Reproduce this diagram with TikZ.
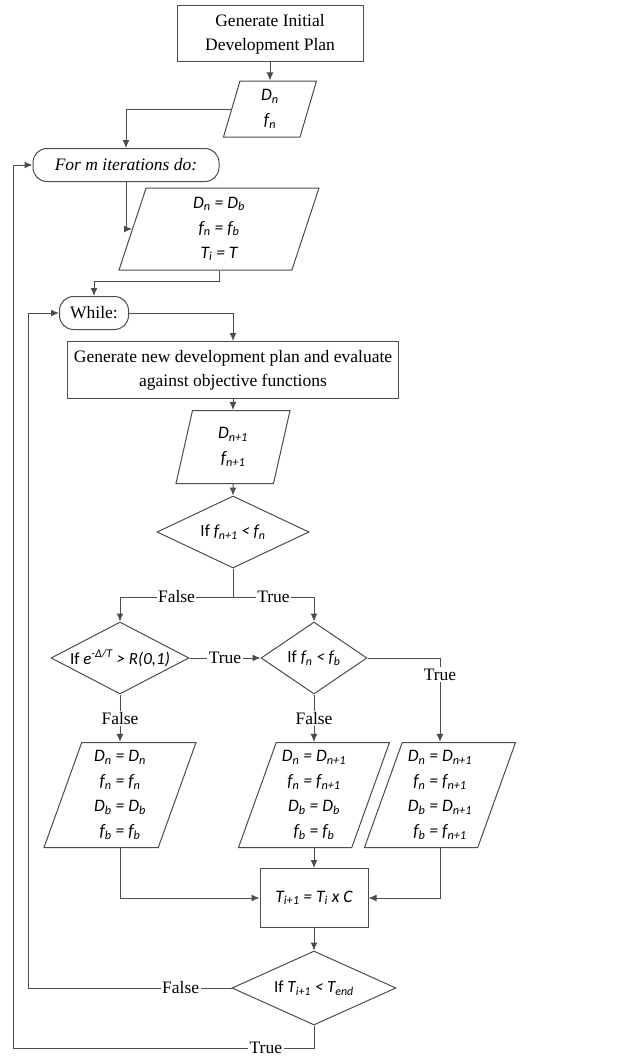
\documentclass[tikz,border=0pt]{standalone}
\usepackage{fontspec}
\setmainfont{Liberation Serif}
\newfontfamily\calfont{Carlito}
\usetikzlibrary{shapes.geometric,arrows.meta}
\newcommand{\sbx}[1]{\textsubscript{#1}}
\newcommand{\spx}[1]{\textsuperscript{#1}}
\begin{document}
\begin{tikzpicture}
    [
    x=1pt, y=-1pt,
    line width=1pt,
    every node/.style={font={\fontsize{17.5}{24}\selectfont}},
    process/.style={rectangle,draw=black!70,inner sep=0pt,align=center},
    io/.style={trapezium,trapezium left angle=67,trapezium right angle=113,trapezium stretches body,draw=black!70,inner sep=0pt,align=center,font={\fontsize{17.5}{25}\calfont\itshape}},
    decision/.style={diamond,draw=black!70,inner sep=0pt,aspect=2,font={\fontsize{17}{20}\calfont}},
    loopbox/.style={rectangle,rounded corners=14pt,draw=black!70,inner sep=0pt},
    lbl/.style={fill=white,inner sep=1.5pt},
    arr/.style={draw=black!70,-{Latex[length=8pt,width=7pt]}},
    line/.style={draw=black!70}
    ]
    \useasboundingbox (0,0) rectangle (627,1057);
    \node (gen) at (270,34) [process, minimum width=186, minimum height=56] {Generate Initial\\Development Plan};
    \node (dnfn) at (270,109) [io, minimum width=93, minimum height=56] {D\sbx{n}\\f\sbx{n}};
    \node (formit) at (126,165) [loopbox, minimum width=186, minimum height=33] {\itshape For m iterations do:};
    \node (reset) at (219,229) [io, minimum width=200, minimum height=82] {D\sbx{n} = D\sbx{b}\\f\sbx{n} = f\sbx{b}\\T\sbx{i} = T};
    \node (while) at (94,313) [loopbox, minimum width=69, minimum height=33] {While:};
    \node (newplan) at (233,370) [process, minimum width=331, minimum height=57] {Generate new development plan and evaluate\\against objective functions};
    \node (dnext) at (233,447) [io, minimum width=114, minimum height=73] {D\sbx{n+1}\\f\sbx{n+1}};
    \node (better) at (233,532) [decision, minimum width=152, minimum height=72] {If \textit{f\sbx{n+1} < f\sbx{n}}};
    \node (accept) at (120,658) [decision, minimum width=138, minimum height=72] {If \textit{e\spx{-Δ/T} > R(0,1)}};
    \node (best) at (314,658) [decision, minimum width=106, minimum height=72] {If \textit{f\sbx{n} < f\sbx{b}}};
    \node (keep) at (120,795) [io, minimum width=152, minimum height=105] {D\sbx{n} = D\sbx{n}\\f\sbx{n} = f\sbx{n}\\D\sbx{b} = D\sbx{b}\\f\sbx{b} = f\sbx{b}};
    \node (move) at (314,795) [io, minimum width=151, minimum height=105] {D\sbx{n} = D\sbx{n+1}\\f\sbx{n} = f\sbx{n+1}\\D\sbx{b} = D\sbx{b}\\f\sbx{b} = f\sbx{b}};
    \node (newbest) at (440,795) [io, minimum width=151, minimum height=105] {D\sbx{n} = D\sbx{n+1}\\f\sbx{n} = f\sbx{n+1}\\D\sbx{b} = D\sbx{n+1}\\f\sbx{b} = f\sbx{n+1}};
    \node (cool) at (314,898) [process, minimum width=108, minimum height=59, font={\fontsize{17.5}{20}\calfont\itshape}] {T\sbx{i+1} = T\sbx{i} x C};
    \node (stop) at (314,988) [decision, minimum width=164, minimum height=74] {If \textit{T\sbx{i+1} < T\sbx{end}}};
    \coordinate (split) at (233,597);
    \coordinate (outerA) at (13,1048);
    \coordinate (outerB) at (28,988);
    % outer loop
    \draw [arr] (gen) to (dnfn);
    \draw [arr] (dnfn.left side) -| (formit.north);
    \draw [arr] (formit.south) |- (reset.left side);
    \draw [arr] (reset |- reset.bottom side) -- ++(0,11) -| (while.north);
    \draw [arr] (while.east) -| (newplan.north);
    \draw [arr] (newplan) to (dnext);
    \draw [arr] (dnext) to (better);
    % branches
    \draw [line] (better.south) -- (split);
    \draw [arr] (split) -| node[lbl,pos=0.25] {False} (accept.north);
    \draw [arr] (split) -| node[lbl,pos=0.25] {True} (best.north);
    \draw [arr] (accept.east) -- node[lbl] {True} (best.west);
    \draw [arr] (best.east) -| node[lbl,pos=0.6] {True} (newbest);
    \draw [arr] (accept) -- node[lbl] {False} (keep);
    \draw [arr] (best) -- node[lbl] {False} (move);
    \draw [arr] (keep) |- (cool.west);
    \draw [arr] (newbest) |- (cool.east);
    \draw [arr] (move) -- (cool);
    \draw [arr] (cool) -- (stop);
    % back to the loops
    \draw [arr] (stop.west) -- node[lbl,pos=0.25] {False} (outerB) |- (while.west);
    \draw [arr] (stop.south) |- node[lbl,pos=0.58] {True} (outerA) |- (formit.west);
\end{tikzpicture}
\end{document}
